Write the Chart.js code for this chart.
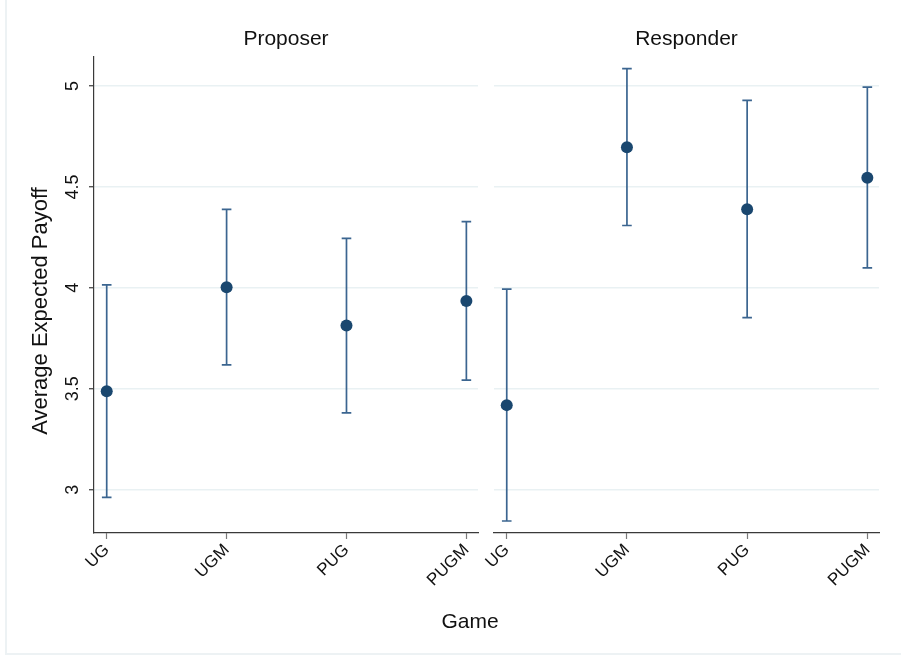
<!DOCTYPE html>
<html>
<head>
<meta charset="utf-8">
<script src="https://cdn.jsdelivr.net/npm/chart.js@4/dist/chart.umd.min.js"></script>
<style>
  html, body { margin: 0; padding: 0; background: #ffffff; }
  #wrap { position: relative; width: 901px; height: 657px; overflow: hidden; }
  #frame { position: absolute; left: 5px; top: 0; width: 896px; height: 655px;
           border-left: 2px solid #edf2f4; border-bottom: 2px solid #edf2f4; box-sizing: border-box; }
  canvas { position: absolute; left: 0; top: 0; }
</style>
</head>
<body>
<div id="wrap">
  <div id="frame"></div>
  <canvas id="proposer" width="901" height="657"></canvas>
  <canvas id="responder" width="901" height="657"></canvas>
</div>
<script>
// Games on the x axis
const categories = ['UG', 'UGM', 'PUG', 'PUGM'];

// Proposer: mean and 95% interval of the expected payoff
const proposerMean = [3.488, 4.003, 3.813, 3.935];
const proposerLow  = [2.962, 3.618, 3.381, 3.543];
const proposerHigh = [4.015, 4.389, 4.245, 4.328];

// Responder: mean and 95% interval of the expected payoff
const responderMean = [3.419, 4.697, 4.389, 4.546];
const responderLow  = [2.845, 4.309, 3.853, 4.099];
const responderHigh = [3.994, 5.086, 4.929, 4.994];

// Value-axis ticks
const yTicks = [3, 3.5, 4, 4.5, 5];

const Y_MIN = 2.7855, Y_MAX = 5.1437;
const X_MIN = -0.106, X_MAX = 3.097;

const NAVY = '#1a476f';
const BAR = '#3b6590';
const GRID = '#e9f1f3';
const AXIS = '#3a3a3a';
const TEXT = '#111111';
const FONT = "'Liberation Sans', Arial, sans-serif";

Chart.defaults.font.family = FONT;
Chart.defaults.color = TEXT;

// Range caps drawn behind the markers, positioned through the chart scales
const rangeCaps = {
  id: 'rangeCaps',
  beforeDatasetsDraw(chart) {
    const ds = chart.data.datasets[0];
    const xs = chart.scales.x, ys = chart.scales.y;
    const ctx = chart.ctx;
    ctx.save();
    ctx.strokeStyle = BAR;
    ctx.lineWidth = 1.7;
    ds.data.forEach((pt, i) => {
      const x = xs.getPixelForValue(pt.x);
      const yLo = ys.getPixelForValue(ds.low[i]);
      const yHi = ys.getPixelForValue(ds.high[i]);
      const half = 4.8;
      ctx.beginPath();
      ctx.moveTo(x, yLo); ctx.lineTo(x, yHi);
      ctx.moveTo(x - half, yHi); ctx.lineTo(x + half, yHi);
      ctx.moveTo(x - half, yLo); ctx.lineTo(x + half, yLo);
      ctx.stroke();
    });
    ctx.restore();
  }
};

// Vertical tick labels, axis title and shared x title for the left panel
const leftDecor = {
  id: 'leftDecor',
  afterDraw(chart) {
    const ys = chart.scales.y;
    const ctx = chart.ctx;
    ctx.save();
    ctx.fillStyle = TEXT;
    ctx.textAlign = 'center';
    ctx.textBaseline = 'alphabetic';
    ctx.font = '18px ' + FONT;
    ys.ticks.forEach(t => {
      const y = ys.getPixelForValue(t.value);
      ctx.save();
      ctx.translate(78, y);
      ctx.rotate(-Math.PI / 2);
      ctx.fillText(String(t.value), 0, 0);
      ctx.restore();
    });
    ctx.font = '22px ' + FONT;
    ctx.save();
    ctx.translate(47, 311);
    ctx.rotate(-Math.PI / 2);
    ctx.fillText('Average Expected Payoff', 0, 0);
    ctx.restore();
    ctx.font = '21px ' + FONT;
    ctx.fillText('Game', 470, 628);
    ctx.restore();
  }
};

function points(mean) {
  return mean.map((v, i) => ({ x: i, y: v }));
}

function makePanel(canvasId, title, mean, low, high, isLeft) {
  return new Chart(document.getElementById(canvasId), {
    type: 'scatter',
    data: {
      datasets: [{
        data: points(mean),
        low: low,
        high: high,
        backgroundColor: NAVY,
        borderWidth: 0,
        pointRadius: 6,
        pointHoverRadius: 6
      }]
    },
    plugins: isLeft ? [rangeCaps, leftDecor] : [rangeCaps],
    options: {
      responsive: false,
      animation: false,
      events: [],
      layout: { padding: { left: 0, top: 0, right: isLeft ? 423 : 22, bottom: 0 } },
      plugins: {
        legend: { display: false },
        tooltip: { enabled: false },
        title: {
          display: true,
          text: title,
          fullSize: false,
          color: TEXT,
          font: { size: 21, lineHeight: '24px', weight: 'normal' },
          padding: { top: 27, bottom: 6 }
        }
      },
      scales: {
        x: {
          type: 'linear',
          min: X_MIN,
          max: X_MAX,
          afterBuildTicks: s => { s.ticks = categories.map((_, i) => ({ value: i })); },
          afterFit: s => { s.height = 124; },
          ticks: {
            autoSkip: false,
            minRotation: 45,
            maxRotation: 45,
            padding: 1,
            color: TEXT,
            font: { size: 17 },
            callback: v => categories[v]
          },
          grid: {
            display: true,
            drawOnChartArea: false,
            drawTicks: true,
            tickLength: 6,
            tickColor: '#7a7a7a',
            tickWidth: 1.2
          },
          border: { display: true, color: AXIS, width: 1.2 }
        },
        y: {
          type: 'linear',
          min: Y_MIN,
          max: Y_MAX,
          afterBuildTicks: s => { s.ticks = yTicks.map(v => ({ value: v })); },
          afterFit: s => { s.width = isLeft ? 94 : 494; },
          ticks: { display: false },
          grid: {
            display: true,
            color: GRID,
            lineWidth: 1.4,
            drawTicks: isLeft,
            tickLength: 5,
            tickColor: '#555555'
          },
          border: { display: isLeft, color: AXIS, width: 1.2 }
        }
      }
    }
  });
}

makePanel('proposer', 'Proposer', proposerMean, proposerLow, proposerHigh, true);
makePanel('responder', 'Responder', responderMean, responderLow, responderHigh, false);
</script>
</body>
</html>
